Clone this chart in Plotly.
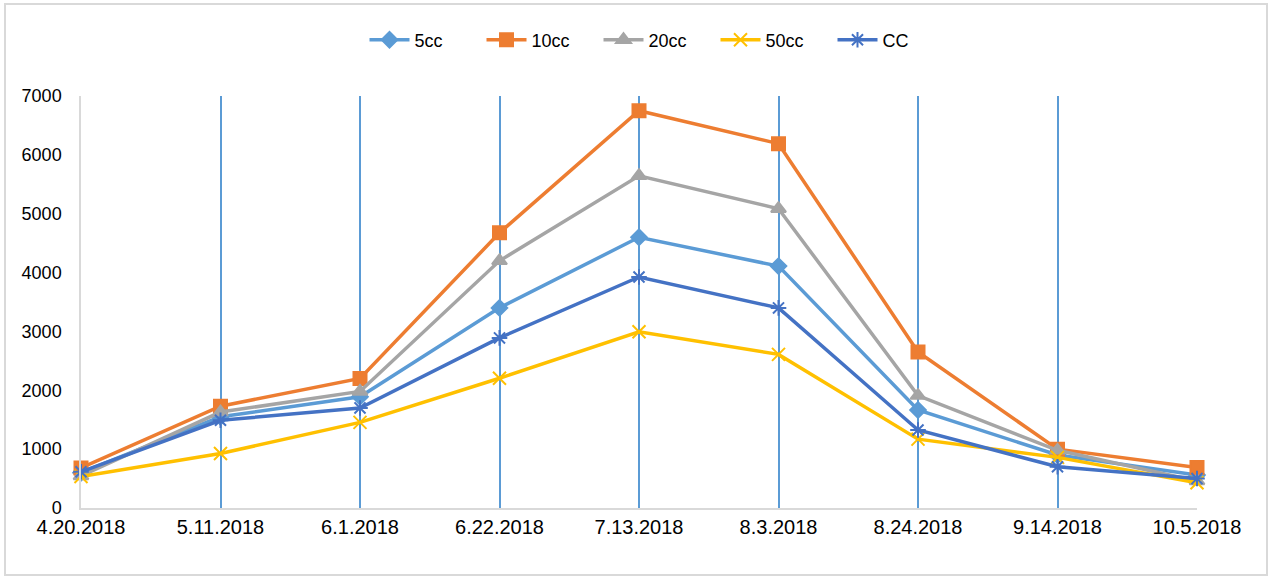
import plotly.graph_objects as go

dates = ["4.20.2018", "5.11.2018", "6.1.2018", "6.22.2018", "7.13.2018",
         "8.3.2018", "8.24.2018", "9.14.2018", "10.5.2018"]
cc5 = [600, 1550, 1890, 3400, 4600, 4110, 1665, 900, 560]
cc10 = [680, 1730, 2200, 4675, 6750, 6190, 2650, 1000, 690]
cc20 = [545, 1630, 1980, 4200, 5645, 5085, 1910, 980, 460]
cc50 = [535, 925, 1455, 2205, 2995, 2610, 1170, 860, 430]
ccC = [615, 1490, 1700, 2890, 3925, 3400, 1325, 700, 500]

series = [
    ("5cc", cc5, "#5B9BD5", "diamond", 12),
    ("10cc", cc10, "#ED7D31", "square", 13),
    ("20cc", cc20, "#A5A5A5", "triangle-up", 13),
    ("50cc", cc50, "#FFC000", "x-thin-open", 13),
    ("CC", ccC, "#4472C4", "asterisk-open", 13),
]

fig = go.Figure()
for name, vals, color, sym, size in series:
    fig.add_trace(go.Scatter(
        x=dates, y=vals, name=name, mode="lines+markers",
        line=dict(color=color, width=3.5),
        marker=dict(symbol=sym, size=size, color=color,
                    line=dict(color=color, width=2)),
        cliponaxis=False,
    ))

fig.update_layout(
    width=1268, height=577,
    margin=dict(l=81, r=71, t=96, b=69),
    paper_bgcolor="white", plot_bgcolor="white",
    font=dict(family="Liberation Sans, Arial, sans-serif", size=18, color="#000000"),
    legend=dict(orientation="h", x=0.5 + 18 / 1116, xanchor="center", y=1 + 56 / 412,
                yanchor="middle", font=dict(size=18), bgcolor="rgba(0,0,0,0)",
                traceorder="normal", entrywidth=62, itemwidth=40),
    xaxis=dict(type="category", range=[0, 8], showgrid=True, gridcolor="#5B9BD5",
               gridwidth=1.5, showline=True, linecolor="#D9D9D9", linewidth=2,
               ticks="", tickfont=dict(size=20), zeroline=False),
    yaxis=dict(range=[0, 7000], dtick=1000, showgrid=False, showline=True,
               linecolor="#D9D9D9", linewidth=1.5, ticks="", tickfont=dict(size=18),
               ticklabelstandoff=14, zeroline=False),
    shapes=[dict(type="rect", xref="paper", yref="paper",
                 x0=-76 / 1116, x1=1 + 70 / 1116, y0=-67 / 412, y1=1 + 92 / 412,
                 line=dict(color="#D9D9D9", width=2), layer="below")],
)

fig.write_html("out.html", post_script="document.body.style.margin='0';",
               config={"displayModeBar": False})
